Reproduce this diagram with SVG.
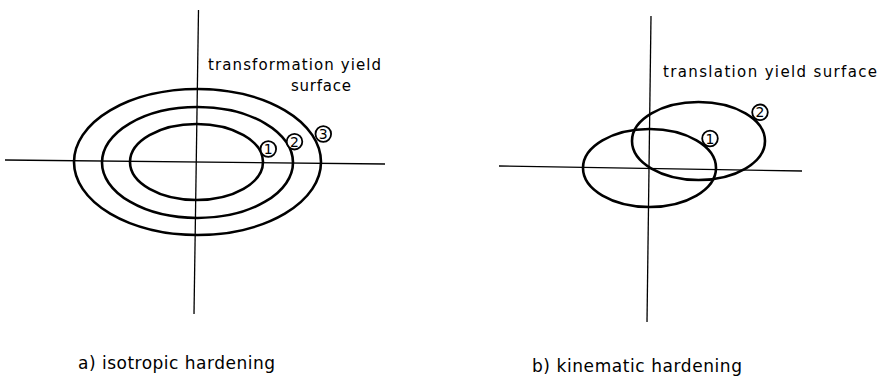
<svg xmlns="http://www.w3.org/2000/svg" width="880" height="379" viewBox="0 0 880 379">
<style>
.axis{stroke:#000;stroke-width:1.3;fill:none}
.surf{stroke:#000;stroke-width:2.6;fill:none}
.mark{stroke:#000;stroke-width:1.8;fill:#fff}
.lbl{font-family:"DejaVu Sans","Liberation Sans",sans-serif;fill:#000}
.num{font-family:"DejaVu Sans","Liberation Sans",sans-serif;font-size:14px;fill:#000;text-anchor:middle}
</style>
<rect width="880" height="379" fill="#fff"/>
<g id="axes">
<line class="axis" x1="198.5" y1="10" x2="194" y2="314"/>
<line class="axis" x1="5" y1="160" x2="385" y2="164"/>
<line class="axis" x1="651" y1="16" x2="647" y2="322"/>
<line class="axis" x1="499" y1="166" x2="802" y2="171"/>
</g>
<g id="iso-surface-3"><ellipse class="surf" cx="197.5" cy="162" rx="123.5" ry="73"/></g>
<g id="iso-surface-2"><ellipse class="surf" cx="197.5" cy="162.5" rx="95.5" ry="55.5"/></g>
<g id="iso-surface-1"><ellipse class="surf" cx="196.5" cy="162" rx="66.5" ry="38"/></g>
<g id="kin-surface-1"><ellipse class="surf" cx="649.5" cy="168" rx="66.5" ry="39"/></g>
<g id="kin-surface-2"><ellipse class="surf" cx="698.5" cy="141" rx="66.5" ry="39"/></g>
<g id="iso-mark-1"><circle class="mark" cx="268.3" cy="149" r="7.8"/><text class="num" x="268.3" y="154">1</text></g>
<g id="iso-mark-2"><circle class="mark" cx="294.5" cy="141.7" r="7.8"/><text class="num" x="294.5" y="146.7">2</text></g>
<g id="iso-mark-3"><circle class="mark" cx="323.3" cy="134" r="7.8"/><text class="num" x="323.3" y="139">3</text></g>
<g id="kin-mark-1"><circle class="mark" cx="710" cy="138.5" r="7.8"/><text class="num" x="710" y="143.5">1</text></g>
<g id="kin-mark-2"><circle class="mark" cx="760" cy="112.3" r="7.8"/><text class="num" x="760" y="117.3">2</text></g>
<g id="iso-label">
<text class="lbl" x="208" y="70" font-size="15" textLength="173" lengthAdjust="spacing">transformation yield</text>
<text class="lbl" x="291" y="91" font-size="15" textLength="60" lengthAdjust="spacing">surface</text>
</g>
<g id="kin-label">
<text class="lbl" x="663" y="77" font-size="15" textLength="214" lengthAdjust="spacing">translation yield surface</text>
</g>
<g id="captions">
<text class="lbl" x="78" y="369" font-size="17" textLength="197" lengthAdjust="spacing">a) isotropic hardening</text>
<text class="lbl" x="532" y="372" font-size="17" textLength="210" lengthAdjust="spacing">b) kinematic hardening</text>
</g>
</svg>
